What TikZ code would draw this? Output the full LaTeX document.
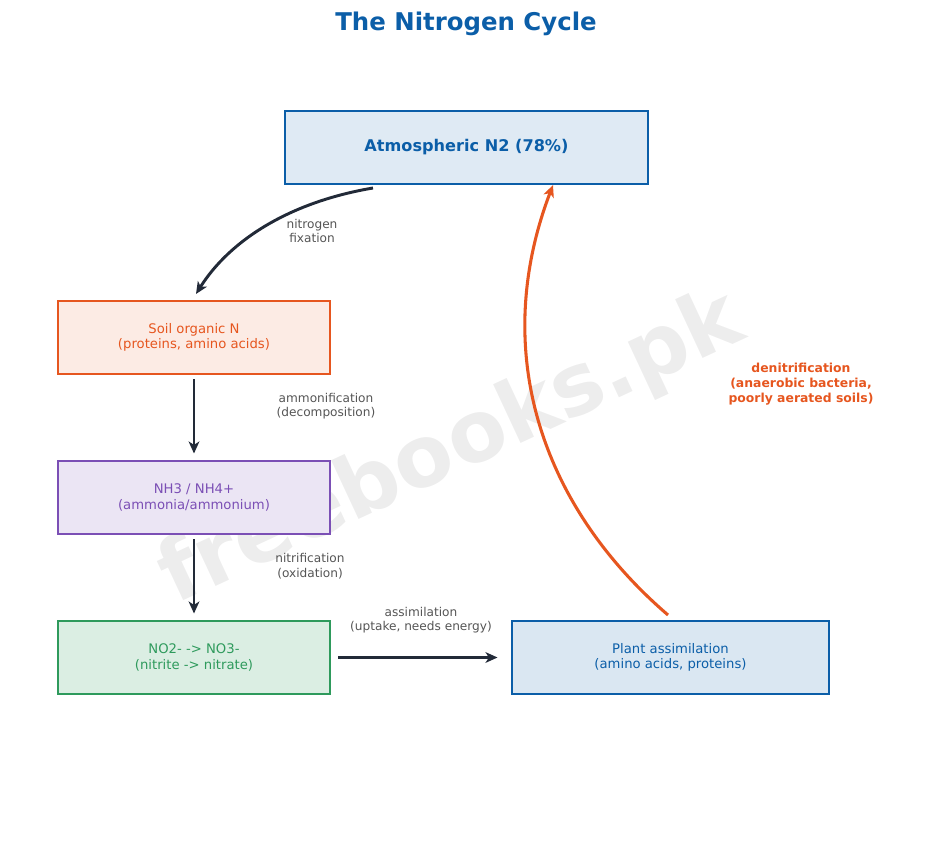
\documentclass[tikz,border=0pt]{standalone}
\usepackage{fontspec}
\setmainfont{DejaVu Sans}
\usetikzlibrary{arrows.meta}
\definecolor{cblue}{HTML}{0B5EA8}
\definecolor{corange}{HTML}{E6561F}
\definecolor{cpurple}{HTML}{7B4FB5}
\definecolor{cgreen}{HTML}{2E9A5C}
\definecolor{cdark}{HTML}{222A38}
\definecolor{clab}{HTML}{555555}
\begin{document}
\begin{tikzpicture}[x=0.75pt,y=-0.75pt,
 box/.style={draw,line width=2.2pt,minimum height=73*0.75pt,align=center,inner sep=0pt,font=\fontsize{9.9pt}{11.4pt}\selectfont},
 lab/.style={text=clab,align=center,font=\fontsize{9.1pt}{11pt}\selectfont},
 arr/.style={draw=cdark,line width=2.2pt,-{Stealth[length=9pt,width=8pt,inset=2.5pt]}}]
\useasboundingbox (0,0) rectangle (932,867);
\node[text=gray!14,rotate=25,font=\bfseries\fontsize{64pt}{64pt}\selectfont] (wm) at (452,450) {freebooks.pk};
\node[text=cblue,font=\bfseries\fontsize{18.3pt}{20pt}\selectfont] (title) at (466,24) {The Nitrogen Cycle};
\node[box,draw=cblue,fill=cblue!13,text=cblue,minimum width=363*0.75pt,font=\bfseries\fontsize{12.1pt}{13pt}\selectfont] (atm) at (466.5,147.5) {Atmospheric N2 (78\%)};
\node[box,draw=corange,fill=corange!12,text=corange,minimum width=272*0.75pt] (soil) at (194,337.5) {Soil organic N\\(proteins, amino acids)};
\node[box,draw=cpurple,fill=cpurple!15,text=cpurple,minimum width=272*0.75pt] (nh) at (194,497.5) {NH3 / NH4+\\(ammonia/ammonium)};
\node[box,draw=cgreen,fill=cgreen!17,text=cgreen,minimum width=272*0.75pt] (no) at (194,657.5) {NO2- -> NO3-\\(nitrite -> nitrate)};
\node[box,draw=cblue,fill=cblue!15,text=cblue,minimum width=317*0.75pt] (plant) at (670.5,657.5) {Plant assimilation\\(amino acids, proteins)};
\coordinate (fa) at (373,188);
\coordinate (fb) at (196,294);
\draw[arr] (fa) .. controls (290,202) and (230,240) .. (fb);
\node[lab] (l1) at (312,231) {nitrogen\\fixation};
\draw[arr] ([yshift=-4*0.75pt]soil.south) -- ([yshift=6*0.75pt]nh.north);
\node[lab] (l2) at (326,406) {ammonification\\(decomposition)};
\draw[arr] ([yshift=-4*0.75pt]nh.south) -- ([yshift=6*0.75pt]no.north);
\node[lab] (l3) at (310,566) {nitrification\\(oxidation)};
\draw[arr] ([xshift=7*0.75pt]no.east) -- ([xshift=-13*0.75pt]plant.west);
\node[lab] (l4) at (421,620) {assimilation\\(uptake, needs energy)};
\coordinate (da) at (668,615);
\coordinate (db) at (553,185);
\draw[draw=corange,line width=2.3pt,-{Stealth[length=9pt,width=8pt,inset=2.5pt]}] (da) .. controls (540,505) and (490,350) .. (db);
\node[text=corange,align=center,font=\bfseries\fontsize{9.3pt}{11pt}\selectfont] (l5) at (801,384) {denitrification\\(anaerobic bacteria,\\poorly aerated soils)};
\end{tikzpicture}
\end{document}
